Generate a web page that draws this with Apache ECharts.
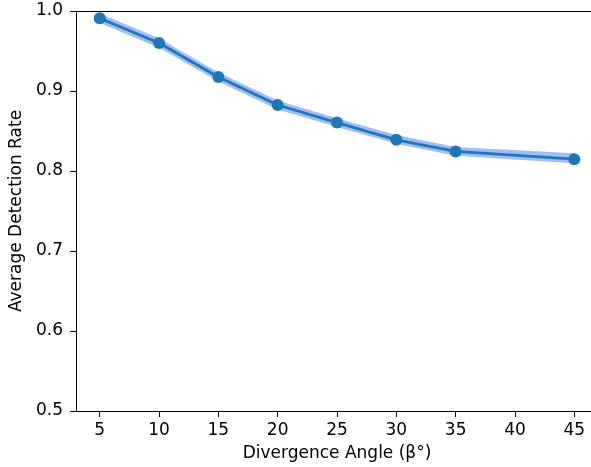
<!DOCTYPE html>
<html>
<head>
<meta charset="utf-8">
<script src="https://cdn.jsdelivr.net/npm/echarts@6/dist/echarts.min.js"></script>
<style>
  html, body { margin: 0; padding: 0; background: #fff; }
  #main { width: 591px; height: 467px; }
</style>
</head>
<body>
<div id="main"></div>
<script>
// divergence angle vs detection rate
var angles = [5, 10, 15, 20, 25, 30, 35, 45];
var rate = [0.991, 0.960, 0.9175, 0.8825, 0.8605, 0.839, 0.8245, 0.8148];
var bandLow = [0.985, 0.954, 0.912, 0.877, 0.855, 0.834, 0.819, 0.8098];
var bandHigh = [0.997, 0.966, 0.923, 0.888, 0.866, 0.845, 0.830, 0.8222];
var xTicks = [5, 10, 15, 20, 25, 30, 35, 40, 45];

var chart = echarts.init(document.getElementById('main'));

var lineData = [];
for (var i = 0; i < angles.length; i++) {
    lineData.push([angles[i], rate[i]]);
}

// band drawn as one polygon through the axes
function renderBand(params, api) {
    if (params.dataIndex !== 0) return;
    var pts = [];
    for (var i = 0; i < angles.length; i++) {
        pts.push(api.coord([angles[i], bandHigh[i]]));
    }
    for (var j = angles.length - 1; j >= 0; j--) {
        pts.push(api.coord([angles[j], bandLow[j]]));
    }
    return {
        type: 'polygon',
        shape: { points: pts },
        style: { fill: '#a0bef5' },
        silent: true
    };
}

var font = 'DejaVu Sans';

var option = {
    animation: false,
    grid: {
        left: 76,
        top: 11,
        width: 522,
        height: 400,
        outerBoundsMode: 'none',
        containLabel: false
    },
    xAxis: [
        {
            type: 'value',
            min: 3,
            max: 47,
            name: 'Divergence Angle (β°)',
            nameLocation: 'middle',
            nameGap: 34,
            nameTextStyle: { fontFamily: font, fontSize: 17, color: '#000' },
            axisLine: { lineStyle: { color: '#000', width: 1 } },
            axisTick: { show: true, length: 6, inside: false, customValues: xTicks, lineStyle: { color: '#000' } },
            axisLabel: { fontFamily: font, fontSize: 17, color: '#000', margin: 11, customValues: xTicks },
            splitLine: { show: false }
        },
        {
            // top spine only
            type: 'value',
            position: 'top',
            min: 3,
            max: 47,
            axisLine: { show: true, lineStyle: { color: '#000', width: 1 } },
            axisTick: { show: false },
            axisLabel: { show: false },
            splitLine: { show: false }
        }
    ],
    yAxis: {
        type: 'value',
        min: 0.5,
        max: 1.0,
        interval: 0.1,
        name: 'Average Detection Rate',
        nameLocation: 'middle',
        nameGap: 47,
        nameTextStyle: { fontFamily: font, fontSize: 17, color: '#000' },
        axisLine: { show: true, lineStyle: { color: '#000', width: 1 } },
        axisTick: { show: true, length: 6, lineStyle: { color: '#000' } },
        axisLabel: {
            fontFamily: font, fontSize: 17, color: '#000', margin: 13,
            formatter: function (v) { return v.toFixed(1); }
        },
        splitLine: { show: false }
    },
    series: [
        {
            type: 'custom',
            data: [[angles[0], rate[0]]],
            renderItem: renderBand,
            silent: true,
            z: 1
        },
        {
            type: 'line',
            data: lineData,
            symbol: 'circle',
            symbolSize: 12,
            itemStyle: { color: '#1f77b4' },
            lineStyle: { color: '#1f77b4', width: 2.8 },
            z: 5
        }
    ]
};
chart.setOption(option);
</script>
</body>
</html>
